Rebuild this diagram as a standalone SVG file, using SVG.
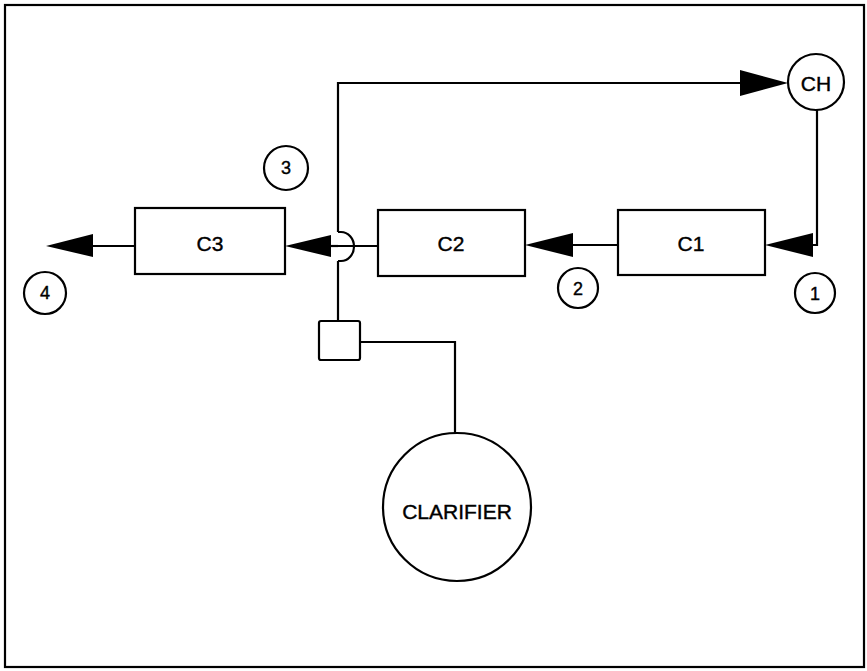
<svg xmlns="http://www.w3.org/2000/svg" width="867" height="671" viewBox="0 0 867 671">
<style>
.s{fill:none;stroke:#000;stroke-width:2.2}
.b{fill:#fff;stroke:#000;stroke-width:2.2}
.t{font-family:"Liberation Sans",Arial,sans-serif;font-size:21px;fill:#000;stroke:#000;stroke-width:0.4;text-anchor:middle;dominant-baseline:central}
.n{font-size:18px}
.ah{fill:#000;stroke:none}
</style>
<rect x="0" y="0" width="867" height="671" fill="#fff"/>
<rect x="5" y="5" width="859" height="662" class="s"/>
<g id="connectors">
<path class="s" d="M338,232 V83 H742"/>
<polygon class="ah" points="788,83 740,70 740,96"/>
<path class="s" d="M817,110 V245 H810"/>
<polygon class="ah" points="765,245 813,233 813,257"/>
<path class="s" d="M618,245 H570"/>
<polygon class="ah" points="525,245 573,233 573,257"/>
<path class="s" d="M378,246 H338"/>
<path class="s" d="M338,232 H341 A13,14.5 0 0 1 341,261 H338"/>
<path class="s" d="M338,246 H328"/>
<polygon class="ah" points="285,246 331,235 331,257"/>
<path class="s" d="M338,261 V321"/>
<path class="s" d="M135,246 H90"/>
<polygon class="ah" points="46,246 93,234 93,257"/>
<path class="s" d="M360,342 H455 V433"/>
</g>
<g id="CH"><circle class="b" cx="816" cy="82" r="28"/><text class="t" x="816" y="83">CH</text></g>
<g id="C1"><rect class="b" x="618" y="210" width="147" height="65"/><text class="t" x="691" y="243">C1</text></g>
<g id="C2"><rect class="b" x="378" y="210" width="147" height="66"/><text class="t" x="451" y="243">C2</text></g>
<g id="C3"><rect class="b" x="135" y="208" width="150" height="66"/><text class="t" x="210" y="243">C3</text></g>
<g id="valve"><rect class="b" x="319" y="321" width="41" height="39" rx="2"/></g>
<g id="clarifier"><circle class="b" cx="457" cy="507" r="74"/><text class="t" x="457" y="511">CLARIFIER</text></g>
<g id="label1"><circle class="b" cx="815" cy="293" r="20"/><text class="t n" x="815" y="294">1</text></g>
<g id="label2"><circle class="b" cx="578" cy="288" r="20"/><text class="t n" x="578" y="289">2</text></g>
<g id="label3"><circle class="b" cx="286" cy="168" r="22"/><text class="t n" x="286" y="168">3</text></g>
<g id="label4"><circle class="b" cx="45" cy="293" r="21"/><text class="t n" x="45" y="293">4</text></g>
</svg>
